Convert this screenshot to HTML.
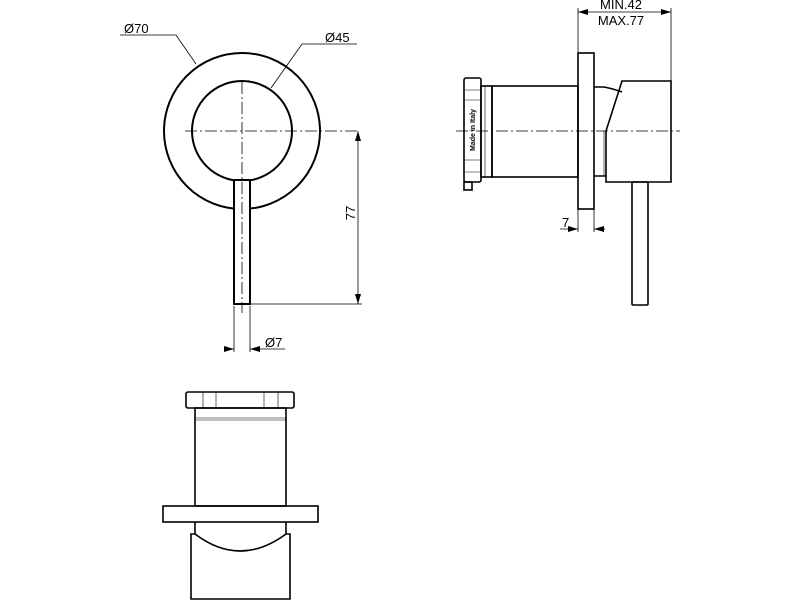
<!DOCTYPE html>
<html><head><style>html,body{margin:0;padding:0;background:#fff}svg{display:block}</style></head>
<body>
<svg width="800" height="600" viewBox="0 0 800 600" xmlns="http://www.w3.org/2000/svg" font-family="Liberation Sans, sans-serif">
<defs>
<marker id="a" viewBox="0 0 10 6" refX="10" refY="3" markerWidth="10" markerHeight="6" orient="auto-start-reverse" markerUnits="userSpaceOnUse"><path d="M0,0 L10,3 L0,6z" fill="#000"/></marker>
</defs>
<g fill="none" stroke="#000">
<circle cx="242" cy="131" r="78" stroke-width="2"/>
<circle cx="242" cy="131" r="50" stroke-width="2"/>
<rect x="234" y="180" width="16" height="124" fill="#fff" stroke-width="2"/>
<path d="M185 131H358M242 82V313" stroke-width="0.8" stroke-dasharray="12 3 2 3"/>
<g stroke-width="0.8">
<path d="M120 35H176L196 64"/>
<path d="M357 44H302L271 88"/>
<path d="M250 304H362M234 306V352M250 306V352"/>
<path d="M358 131V304" marker-start="url(#a)" marker-end="url(#a)"/>
<path d="M224 349H234" marker-end="url(#a)"/>
<path d="M285 349H250" marker-end="url(#a)"/>
<path d="M578 8V53M671 8V81M578 232V209M594 232V209"/>
<path d="M578 12H671" marker-start="url(#a)" marker-end="url(#a)"/>
<path d="M560 229H578" marker-end="url(#a)"/>
<path d="M605 229H594" marker-end="url(#a)"/>
</g>
<g stroke-width="1.6">
<rect x="464" y="78" width="17" height="104" rx="2"/>
<rect x="464" y="182" width="8" height="8"/>
<rect x="481" y="86" width="11" height="91"/>
<rect x="492" y="86" width="86" height="91"/>
<rect x="578" y="53" width="16" height="156"/>
<path d="M594 87H604Q614 89 622 92M594 176H606"/>
<path d="M622 81H671V182H606V131L622 81Z"/>
<rect x="632" y="182" width="16" height="123" rx="1"/>
</g>
<path d="M465 90H480M465 100H480M465 160H480M465 172H480M485 86V177M604 131V176" stroke-width="0.6"/>
<path d="M456 131H680" stroke-width="0.8" stroke-dasharray="12 3 2 3"/>
<g stroke-width="1.6">
<rect x="186" y="392" width="108" height="16" rx="2"/>
<rect x="195" y="408" width="91" height="98"/>
<rect x="163" y="506" width="155" height="16"/>
<path d="M195 522V534M286 522V534"/>
<path d="M191 534H195Q240 568 286 534H290V599H191Z"/>
</g>
<path d="M195 418H286M195 420H286M203 392V408M216 392V408M264 392V408M278 392V408" stroke-width="0.6"/>
</g>
<g font-size="13" fill="#000">
<text x="124" y="33">Ø70</text>
<text x="325" y="42">Ø45</text>
<text x="265" y="347">Ø7</text>
<text x="355" y="213" transform="rotate(-90 355 213)" text-anchor="middle">77</text>
<text x="621" y="9" text-anchor="middle">MIN.42</text>
<text x="621" y="25" text-anchor="middle">MAX.77</text>
<text x="562" y="227">7</text>
<text x="475" y="130" font-size="7" font-weight="bold" transform="rotate(-90 475 130)" text-anchor="middle">Made in Italy</text>
</g>
</svg>
</body></html>
